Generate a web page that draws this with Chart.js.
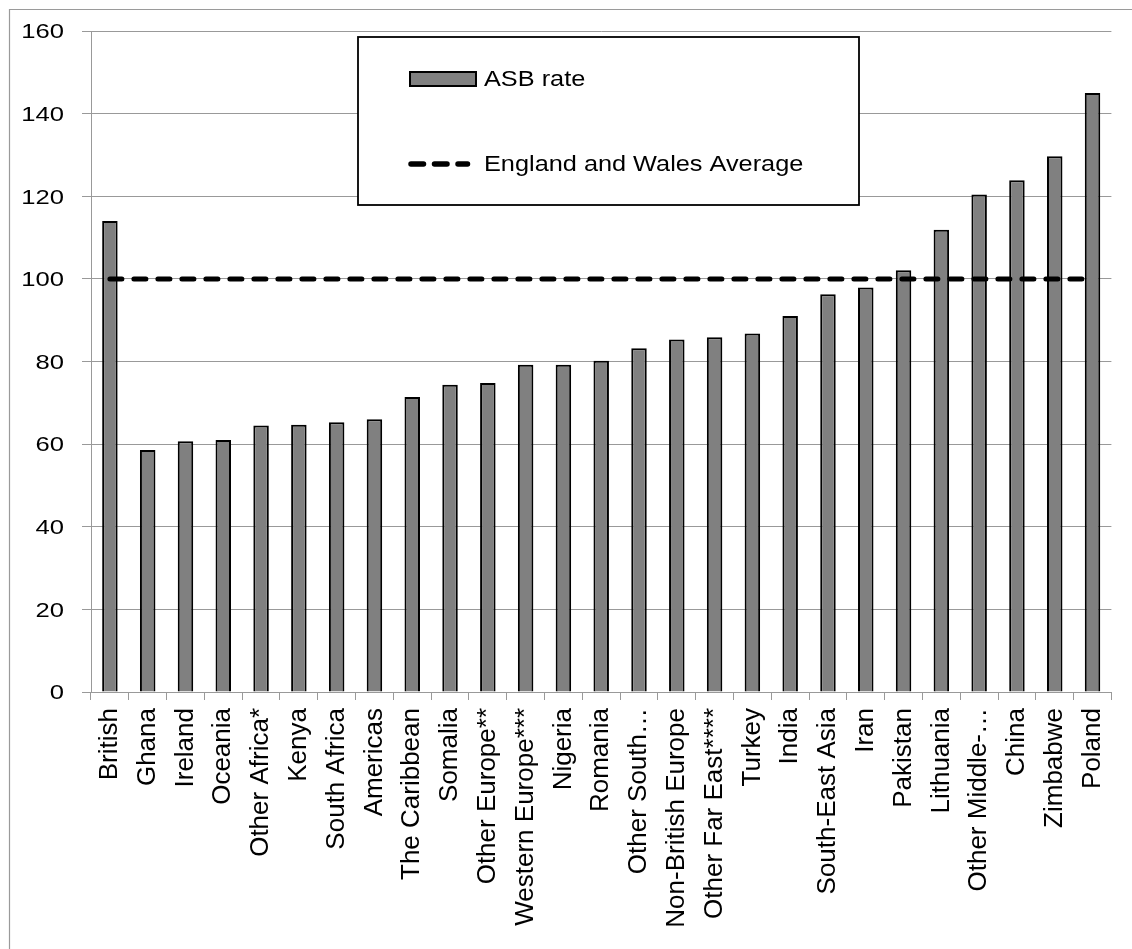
<!DOCTYPE html>
<html>
<head>
<meta charset="utf-8">
<title>ASB rate by nationality</title>
<script src="https://cdn.jsdelivr.net/npm/chart.js@4.4.1/dist/chart.umd.min.js"></script>
<style>
  html, body { margin: 0; padding: 0; background: #ffffff; }
  #wrap { width: 1132px; height: 949px; }
  canvas { display: block; }
</style>
</head>
<body>
<div id="wrap"><canvas id="chart" width="1132" height="949"></canvas></div>
<script>
// Nationality groups along the x axis
const categories = [
  'British', 'Ghana', 'Ireland', 'Oceania', 'Other Africa*', 'Kenya',
  'South Africa', 'Americas', 'The Caribbean', 'Somalia', 'Other Europe**',
  'Western Europe***', 'Nigeria', 'Romania', 'Other South\u2026',
  'Non-British Europe', 'Other Far East****', 'Turkey', 'India',
  'South-East Asia', 'Iran', 'Pakistan', 'Lithuania', 'Other Middle-\u2026',
  'China', 'Zimbabwe', 'Poland'
];

// ASB rate per group (England and Wales = 100)
const asbRate = [
  114, 58.6, 60.7, 61.0, 64.5, 64.7,
  65.3, 66.0, 71.4, 74.4, 74.8,
  79.2, 79.2, 80.2, 83.2,
  85.3, 85.9, 86.8, 91.0,
  96.3, 97.9, 102.1, 111.9, 120.4,
  123.9, 129.7, 145
];

// National reference level
const ewAverage = 100;
const ewAverageLine = categories.map(() => ewAverage);

// Y axis tick settings
const yMin = 0;
const yMax = 160;
const yStep = 20;

const FONT = "'Liberation Sans', Arial, sans-serif";
const GRID = '#999999';

// Frame, y tick labels and the boxed legend
const decorations = {
  id: 'decorations',
  beforeDraw(chart) {
    const ctx = chart.ctx;
    ctx.save();
    ctx.fillStyle = '#ffffff';
    ctx.fillRect(0, 0, chart.width, chart.height);
    ctx.strokeStyle = '#9a9a9a';
    ctx.lineWidth = 1.2;
    ctx.beginPath();
    ctx.moveTo(9.5, chart.height);
    ctx.lineTo(9.5, 9.5);
    ctx.lineTo(chart.width, 9.5);
    ctx.stroke();
    ctx.restore();
  },
  afterDraw(chart) {
    const ctx = chart.ctx;
    const yScale = chart.scales.y;

    // y tick labels, slightly widened
    ctx.save();
    ctx.fillStyle = '#000000';
    ctx.font = '21px ' + FONT;
    ctx.textAlign = 'right';
    ctx.textBaseline = 'middle';
    yScale.ticks.forEach(t => {
      const y = yScale.getPixelForValue(t.value);
      ctx.save();
      ctx.translate(64, y + 1.5);
      ctx.scale(1.22, 1);
      ctx.fillText(String(t.value), 0, 0);
      ctx.restore();
    });
    ctx.restore();

    // legend box
    const bx = 358, by = 37, bw = 501, bh = 168;
    ctx.save();
    ctx.fillStyle = '#ffffff';
    ctx.fillRect(bx, by, bw, bh);
    ctx.strokeStyle = '#000000';
    ctx.lineWidth = 1.8;
    ctx.strokeRect(bx, by, bw, bh);

    // bar swatch
    ctx.fillStyle = '#000000';
    ctx.fillRect(409, 71, 68, 16);
    ctx.fillStyle = '#808080';
    ctx.fillRect(411, 73, 64, 12);

    // dashed swatch
    ctx.strokeStyle = '#000000';
    ctx.lineWidth = 5.5;
    ctx.lineCap = 'round';
    ctx.setLineDash([12.5, 11]);
    ctx.beginPath();
    ctx.moveTo(411, 164);
    ctx.lineTo(467.5, 164);
    ctx.stroke();
    ctx.setLineDash([]);

    ctx.fillStyle = '#000000';
    ctx.font = '22px ' + FONT;
    ctx.textAlign = 'left';
    ctx.textBaseline = 'middle';
    const items = [
      { text: chart.data.datasets[0].label, y: 80 },
      { text: chart.data.datasets[1].label, y: 165 }
    ];
    items.forEach(it => {
      ctx.save();
      ctx.translate(484, it.y);
      ctx.scale(1.15, 1);
      ctx.fillText(it.text, 0, 0);
      ctx.restore();
    });
    ctx.restore();
  }
};

new Chart(document.getElementById('chart'), {
  data: {
    labels: categories,
    datasets: [
      {
        type: 'bar',
        label: 'ASB rate',
        data: asbRate,
        backgroundColor: '#808080',
        borderColor: '#000000',
        borderWidth: 2,
        borderSkipped: 'start',
        barPercentage: 0.82,
        categoryPercentage: 0.5,
        order: 2
      },
      {
        type: 'line',
        label: 'England and Wales Average',
        data: ewAverageLine,
        borderColor: '#000000',
        borderWidth: 5,
        borderDash: [12, 12],
        borderCapStyle: 'round',
        pointRadius: 0,
        fill: false,
        tension: 0,
        order: 1
      }
    ]
  },
  options: {
    responsive: false,
    animation: false,
    devicePixelRatio: 1,
    layout: { padding: { left: 0, top: 31, right: 15, bottom: 0 } },
    plugins: {
      legend: { display: false },
      tooltip: { enabled: false },
      title: { display: false }
    },
    scales: {
      x: {
        type: 'category',
        offset: true,
        grid: {
          offset: true,
          drawOnChartArea: false,
          drawTicks: true,
          tickLength: 8,
          color: GRID,
          lineWidth: 1
        },
        border: { display: true, color: GRID, width: 1 },
        ticks: {
          autoSkip: false,
          maxRotation: 90,
          minRotation: 90,
          padding: 8,
          color: '#000000',
          font: { family: FONT, size: 26 }
        },
        afterFit(scale) { scale.height = 257; }
      },
      y: {
        min: yMin,
        max: yMax,
        grid: {
          color: GRID,
          lineWidth: 1,
          drawTicks: true,
          tickLength: 9
        },
        border: { display: true, color: GRID, width: 1 },
        ticks: {
          stepSize: yStep,
          display: false
        },
        afterFit(scale) { scale.width = 91; }
      }
    }
  },
  plugins: [decorations]
});
</script>
</body>
</html>
